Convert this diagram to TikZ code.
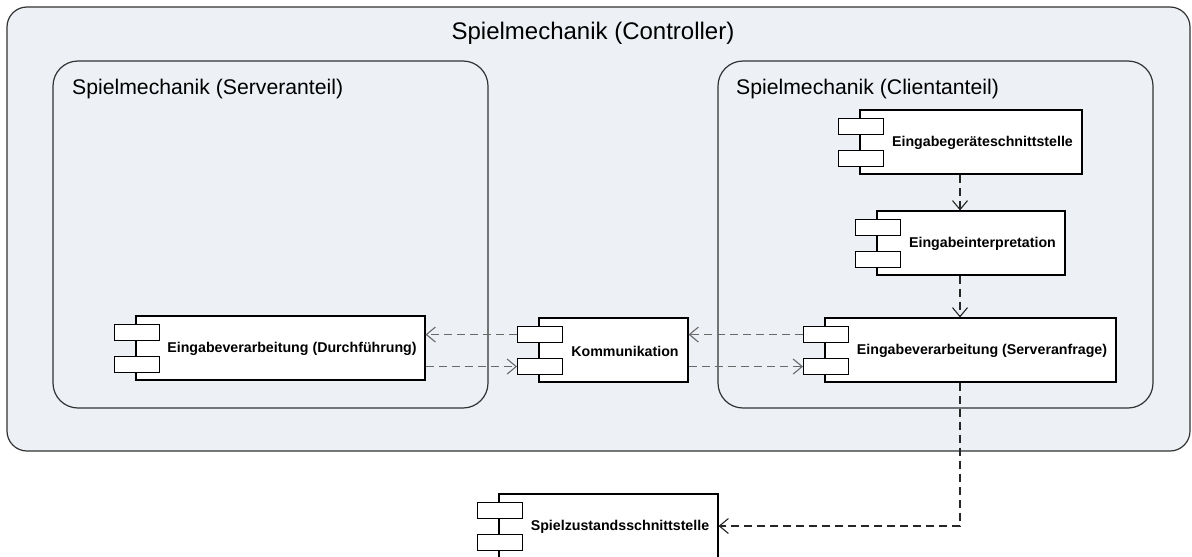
\documentclass[tikz,border=0pt]{standalone}
\usepackage{fontspec}
\setmainfont{Liberation Sans}
\usetikzlibrary{arrows.meta,fit,calc}
\definecolor{pkgfill}{RGB}{237,240,245}
\definecolor{pkgline}{RGB}{50,50,50}
\definecolor{midgray}{RGB}{105,105,105}
\tikzset{
  pkg/.style={draw=pkgline, line width=1.2pt, fill=pkgfill},
  compbox/.style={draw=black, line width=1.1pt, fill=white, inner sep=0pt},
  portbox/.style={draw=black, line width=1.1pt, fill=white, inner sep=0pt, minimum width=45pt, minimum height=16pt, anchor=north west},
  complabel/.style={font=\bfseries\fontsize{14.2}{16}\selectfont, inner sep=0pt},
  pkgtitle/.style={font=\fontsize{21.2}{24}\selectfont, inner sep=0pt, anchor=base west},
  dep/.style={dashed, dash pattern=on 8pt off 5pt, line width=1.1pt, draw=black!85, -{Straight Barb[length=9pt,width=15pt,line width=1.1pt]}},
  depgray/.style={dep, draw=midgray},
}
\newcommand{\umlcomp}[6]{%
  \path (#2,#3) coordinate (#1-nw) (#4,#5) coordinate (#1-se);
  \node[compbox, fit=(#1-nw)(#1-se)] (#1) {};
  \node[portbox] (#1-p1) at ($(#2,#3)+(-22,8)$) {};
  \node[portbox] (#1-p2) at ($(#2,#3)+(-22,40)$) {};
  \node[complabel] (#1-t) at ({(#2+23+#4)/2},{(#3+#5)/2+1}) {#6};
}
\begin{document}
\begin{tikzpicture}[x=1pt,y=-1pt]
\useasboundingbox (0,0) rectangle (1192,557);
% outer package
\draw[pkg, rounded corners=20pt] (7,7) rectangle (1190,451);
\node[font=\fontsize{24}{28}\selectfont, inner sep=0pt, anchor=base] (ctrl) at (593,39) {Spielmechanik (Controller)};
% inner packages
\draw[pkg, rounded corners=25pt] (53,61) rectangle (488,408);
\node[pkgtitle] (srv) at (72,94) {Spielmechanik (Serveranteil)};
\draw[pkg, rounded corners=25pt] (718,61) rectangle (1153,408);
\node[pkgtitle] (cli) at (736,94) {Spielmechanik (Clientanteil)};
% components
\umlcomp{geraet}{860}{110}{1082}{174}{Eingabegeräteschnittstelle}
\umlcomp{interp}{877}{211}{1065}{275}{Eingabeinterpretation}
\umlcomp{anfrage}{825}{318}{1116}{382}{Eingabeverarbeitung (Serveranfrage)}
\umlcomp{komm}{539}{318}{688}{382}{Kommunikation}
\umlcomp{durch}{136}{316}{425}{380}{Eingabeverarbeitung (Durchführung)}
\umlcomp{spiel}{499}{494}{718}{558}{Spielzustandsschnittstelle}
% dependencies
\coordinate (vx) at (960,0);
\draw[dep] (geraet.south -| vx) -- (interp.north -| vx);
\draw[dep] (interp.south -| vx) -- (anfrage.north -| vx);
\draw[depgray] (anfrage-p1.west) -- (komm.east |- anfrage-p1.west);
\draw[depgray] (komm.east |- anfrage-p2.west) -- (anfrage-p2.west);
\draw[depgray] (komm-p1.west) -- (durch.east |- komm-p1.west);
\draw[depgray] (durch.east |- komm-p2.west) -- (komm-p2.west);
\draw[dep] (anfrage.south -| vx) |- (spiel.east);
\end{tikzpicture}
\end{document}
